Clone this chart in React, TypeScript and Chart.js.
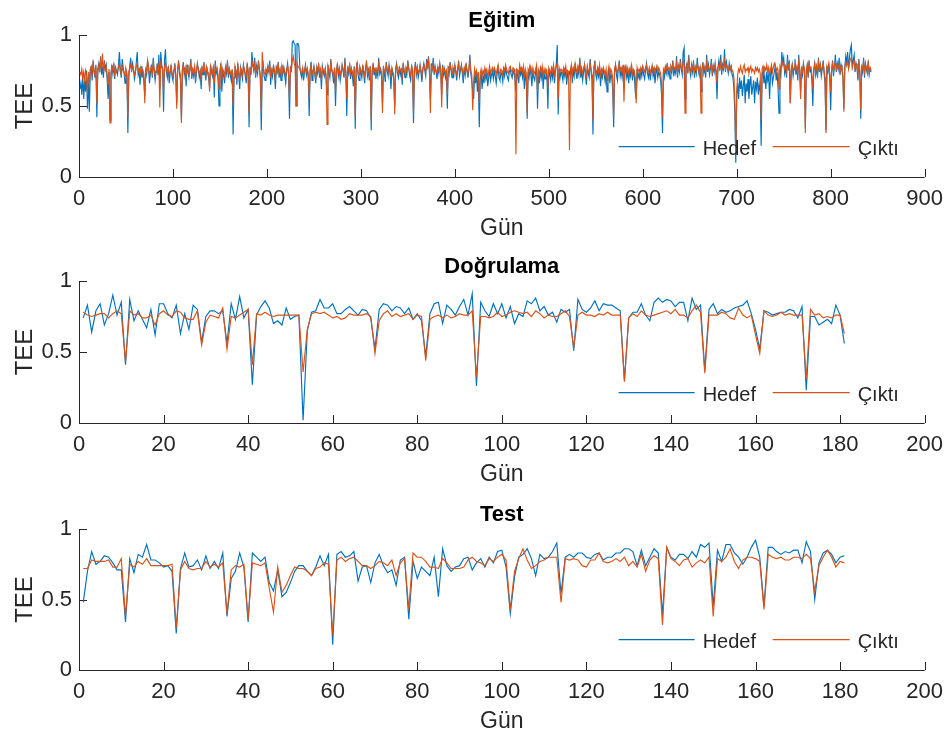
import React, { useEffect, useRef } from 'react';
import { Chart, registerables } from 'chart.js';

Chart.register(...registerables);

const FONT = "'Liberation Sans', Arial, Helvetica, sans-serif";
const AXIS = '#262626';
const BLUE = '#0072BD';
const ORANGE = '#D95319';

const SERIES_LABELS = ['Hedef', 'Çıktı'];
const Y_TICKS = [0, 0.5, 1];
const TRAIN_X_TICKS = [0, 100, 200, 300, 400, 500, 600, 700, 800, 900];
const SUB_X_TICKS = [0, 20, 40, 60, 80, 100, 120, 140, 160, 180, 200];

const trainTarget = [
  0.62,0.66,0.58,0.72,0.55,0.68,0.60,0.75,0.48,0.70,0.46,0.73,0.78,0.68,0.82,0.74,0.70,0.79,0.42,0.76,
  0.80,0.74,0.85,0.72,0.78,0.70,0.82,0.76,0.79,0.68,0.55,0.74,0.40,0.71,0.79,0.73,0.80,0.69,0.77,0.74,
  0.72,0.79,0.88,0.75,0.70,0.83,0.77,0.73,0.66,0.75,0.72,0.31,0.70,0.78,0.84,0.74,0.80,0.76,0.69,0.73,
  0.81,0.88,0.72,0.75,0.65,0.78,0.70,0.74,0.68,0.57,0.76,0.72,0.82,0.77,0.66,0.73,0.79,0.70,0.84,0.75,
  0.68,0.74,0.80,0.72,0.86,0.62,0.88,0.79,0.76,0.46,0.82,0.90,0.74,0.70,0.78,0.66,0.73,0.79,0.71,0.68,
  0.74,0.80,0.70,0.52,0.76,0.82,0.73,0.68,0.40,0.75,0.81,0.72,0.77,0.64,0.79,0.74,0.70,0.76,0.83,0.69,
  0.75,0.71,0.78,0.66,0.73,0.80,0.76,0.70,0.74,0.62,0.78,0.72,0.81,0.75,0.68,0.77,0.73,0.70,0.63,0.79,
  0.74,0.71,0.78,0.56,0.82,0.73,0.76,0.68,0.50,0.74,0.80,0.60,0.75,0.71,0.66,0.78,0.73,0.82,0.70,0.76,
  0.72,0.68,0.75,0.30,0.70,0.78,0.74,0.65,0.80,0.72,0.62,0.77,0.73,0.69,0.79,0.75,0.71,0.66,0.80,0.74,
  0.35,0.77,0.72,0.88,0.80,0.75,0.84,0.70,0.78,0.73,0.82,0.76,0.69,0.33,0.74,0.79,0.71,0.68,0.76,0.72,
  0.78,0.74,0.82,0.65,0.76,0.71,0.79,0.73,0.62,0.77,0.74,0.81,0.70,0.75,0.68,0.79,0.73,0.77,0.71,0.66,
  0.75,0.80,0.72,0.41,0.78,0.74,0.95,0.96,0.94,0.93,0.50,0.94,0.94,0.92,0.78,0.73,0.70,0.77,0.68,0.74,
  0.79,0.72,0.76,0.70,0.43,0.75,0.81,0.68,0.74,0.78,0.72,0.66,0.77,0.73,0.80,0.70,0.75,0.62,0.78,0.74,
  0.71,0.76,0.69,0.58,0.79,0.74,0.70,0.83,0.75,0.72,0.66,0.77,0.50,0.74,0.80,0.71,0.76,0.68,0.73,0.79,
  0.75,0.70,0.84,0.72,0.43,0.77,0.73,0.80,0.69,0.76,0.71,0.64,0.78,0.34,0.75,0.81,0.72,0.68,0.77,0.74,
  0.70,0.79,0.73,0.66,0.76,0.82,0.71,0.75,0.68,0.78,0.33,0.74,0.80,0.72,0.77,0.69,0.75,0.71,0.84,0.73,
  0.76,0.70,0.52,0.78,0.73,0.67,0.81,0.75,0.71,0.79,0.74,0.62,0.77,0.72,0.69,0.50,0.76,0.80,0.73,0.70,
  0.78,0.72,0.75,0.65,0.80,0.74,0.70,0.77,0.73,0.82,0.76,0.71,0.68,0.79,0.74,0.38,0.75,0.81,0.72,0.77,
  0.70,0.74,0.79,0.73,0.67,0.76,0.80,0.75,0.71,0.83,0.77,0.85,0.73,0.55,0.80,0.76,0.84,0.72,0.78,0.74,
  0.69,0.77,0.73,0.80,0.75,0.58,0.79,0.72,0.76,0.70,0.74,0.48,0.78,0.73,0.81,0.75,0.70,0.77,0.72,0.79,
  0.74,0.68,0.76,0.82,0.71,0.75,0.79,0.73,0.66,0.77,0.72,0.80,0.74,0.70,0.76,0.86,0.73,0.68,0.60,0.55,
  0.72,0.66,0.74,0.60,0.70,0.35,0.68,0.74,0.62,0.71,0.66,0.75,0.69,0.73,0.64,0.70,0.76,0.68,0.72,0.74,
  0.69,0.75,0.71,0.66,0.73,0.77,0.70,0.68,0.74,0.72,0.67,0.75,0.71,0.77,0.73,0.70,0.68,0.74,0.76,0.72,
  0.70,0.75,0.73,0.69,0.60,0.74,0.71,0.66,0.77,0.72,0.75,0.70,0.76,0.62,0.73,0.68,0.41,0.74,0.70,0.77,
  0.72,0.64,0.75,0.70,0.68,0.74,0.78,0.48,0.72,0.66,0.75,0.70,0.77,0.62,0.73,0.69,0.74,0.71,0.48,0.76,
  0.72,0.68,0.75,0.70,0.78,0.66,0.74,0.80,0.93,0.44,0.76,0.70,0.74,0.72,0.68,0.75,0.71,0.77,0.65,0.73,
  0.70,0.74,0.72,0.78,0.66,0.75,0.71,0.80,0.73,0.69,0.76,0.72,0.84,0.70,0.75,0.68,0.74,0.79,0.71,0.65,
  0.77,0.73,0.70,0.83,0.74,0.68,0.30,0.76,0.82,0.72,0.69,0.75,0.71,0.78,0.64,0.73,0.70,0.76,0.72,0.67,
  0.74,0.60,0.71,0.77,0.66,0.73,0.70,0.62,0.35,0.74,0.79,0.72,0.68,0.76,0.82,0.71,0.75,0.70,0.78,0.62,
  0.73,0.77,0.70,0.74,0.66,0.75,0.71,0.79,0.68,0.74,0.72,0.60,0.55,0.76,0.70,0.73,0.68,0.75,0.71,0.77,
  0.72,0.69,0.75,0.80,0.73,0.70,0.76,0.68,0.74,0.78,0.71,0.75,0.66,0.73,0.77,0.70,0.74,0.72,0.68,0.58,
  0.31,0.74,0.70,0.76,0.73,0.80,0.72,0.75,0.69,0.77,0.74,0.82,0.71,0.76,0.73,0.85,0.70,0.78,0.74,0.83,
  0.76,0.72,0.88,0.91,0.55,0.77,0.80,0.73,0.86,0.75,0.71,0.79,0.74,0.82,0.70,0.77,0.73,0.84,0.76,0.72,
  0.78,0.60,0.75,0.81,0.73,0.77,0.70,0.86,0.74,0.79,0.72,0.76,0.83,0.71,0.78,0.74,0.80,0.73,0.55,0.77,
  0.82,0.75,0.86,0.72,0.79,0.76,0.90,0.74,0.81,0.77,0.73,0.80,0.75,0.78,0.72,0.70,0.62,0.45,0.10,0.58,
  0.66,0.55,0.70,0.62,0.68,0.57,0.64,0.72,0.52,0.66,0.60,0.69,0.55,0.65,0.71,0.58,0.63,0.68,0.52,0.67,
  0.62,0.70,0.58,0.65,0.60,0.22,0.72,0.75,0.66,0.70,0.62,0.74,0.68,0.72,0.55,0.73,0.76,0.66,0.70,0.74,
  0.78,0.68,0.74,0.62,0.45,0.76,0.72,0.88,0.80,0.84,0.73,0.77,0.70,0.86,0.75,0.82,0.52,0.74,0.79,0.71,
  0.76,0.83,0.72,0.78,0.68,0.86,0.74,0.60,0.77,0.72,0.80,0.75,0.35,0.73,0.78,0.70,0.82,0.74,0.76,0.68,
  0.50,0.75,0.80,0.72,0.77,0.70,0.84,0.74,0.79,0.71,0.76,0.82,0.73,0.66,0.33,0.78,0.74,0.80,0.70,0.47,
  0.75,0.82,0.71,0.78,0.86,0.74,0.80,0.76,0.84,0.72,0.79,0.75,0.70,0.48,0.77,0.85,0.80,0.88,0.76,0.84,
  0.90,0.93,0.78,0.82,0.86,0.74,0.80,0.77,0.68,0.83,0.72,0.41,0.78,0.74,0.84,0.70,0.80,0.76,0.73,0.82,
  0.72,0.76,0.74,
];

const trainOutput = [
  0.74,0.72,0.76,0.70,0.74,0.68,0.75,0.72,0.58,0.74,0.66,0.76,0.78,0.73,0.80,0.75,0.72,0.77,0.52,0.74,
  0.78,0.75,0.82,0.76,0.87,0.74,0.80,0.75,0.77,0.72,0.65,0.76,0.38,0.73,0.78,0.75,0.79,0.72,0.76,0.74,
  0.75,0.77,0.80,0.74,0.72,0.78,0.75,0.74,0.71,0.76,0.73,0.42,0.74,0.77,0.79,0.75,0.78,0.76,0.72,0.74,
  0.78,0.80,0.74,0.76,0.72,0.77,0.74,0.75,0.73,0.52,0.76,0.74,0.82,0.77,0.72,0.75,0.78,0.73,0.80,0.76,
  0.72,0.75,0.78,0.74,0.80,0.49,0.82,0.77,0.76,0.60,0.78,0.80,0.75,0.73,0.77,0.72,0.74,0.78,0.73,0.71,
  0.75,0.78,0.73,0.48,0.76,0.80,0.75,0.72,0.38,0.76,0.79,0.74,0.77,0.70,0.78,0.75,0.73,0.76,0.80,0.72,
  0.76,0.73,0.78,0.70,0.75,0.79,0.76,0.73,0.75,0.68,0.77,0.74,0.80,0.76,0.72,0.77,0.74,0.73,0.60,0.78,
  0.75,0.73,0.77,0.66,0.80,0.75,0.76,0.72,0.62,0.75,0.79,0.68,0.76,0.74,0.71,0.78,0.75,0.80,0.73,0.76,
  0.74,0.72,0.76,0.50,0.73,0.78,0.75,0.70,0.79,0.74,0.68,0.77,0.75,0.72,0.78,0.76,0.73,0.71,0.79,0.75,
  0.45,0.76,0.74,0.82,0.78,0.76,0.80,0.73,0.77,0.75,0.80,0.76,0.72,0.45,0.88,0.78,0.74,0.72,0.76,0.74,
  0.77,0.75,0.80,0.70,0.76,0.74,0.78,0.75,0.68,0.77,0.75,0.79,0.73,0.76,0.72,0.78,0.75,0.77,0.74,0.71,
  0.76,0.78,0.74,0.55,0.77,0.75,0.82,0.85,0.80,0.78,0.50,0.80,0.78,0.77,0.76,0.74,0.73,0.77,0.72,0.75,
  0.78,0.74,0.76,0.73,0.55,0.75,0.79,0.72,0.75,0.77,0.74,0.70,0.77,0.75,0.79,0.73,0.76,0.68,0.77,0.75,
  0.73,0.76,0.72,0.37,0.78,0.75,0.73,0.80,0.76,0.74,0.71,0.77,0.60,0.75,0.79,0.73,0.76,0.72,0.75,0.78,
  0.76,0.73,0.80,0.74,0.55,0.77,0.75,0.79,0.73,0.76,0.74,0.70,0.77,0.43,0.76,0.80,0.74,0.72,0.77,0.75,
  0.73,0.78,0.75,0.71,0.76,0.80,0.74,0.76,0.72,0.78,0.40,0.75,0.79,0.74,0.77,0.73,0.76,0.74,0.80,0.75,
  0.76,0.73,0.45,0.77,0.75,0.72,0.79,0.76,0.74,0.78,0.75,0.70,0.77,0.74,0.72,0.44,0.76,0.79,0.75,0.73,
  0.77,0.75,0.76,0.71,0.79,0.75,0.73,0.77,0.75,0.80,0.76,0.74,0.72,0.78,0.75,0.45,0.76,0.79,0.74,0.77,
  0.73,0.75,0.78,0.75,0.72,0.76,0.79,0.76,0.74,0.80,0.77,0.82,0.75,0.45,0.78,0.76,0.80,0.74,0.77,0.75,
  0.73,0.77,0.75,0.79,0.76,0.49,0.78,0.74,0.76,0.73,0.75,0.58,0.77,0.75,0.79,0.76,0.73,0.77,0.74,0.78,
  0.75,0.72,0.76,0.80,0.74,0.76,0.78,0.75,0.71,0.77,0.74,0.79,0.75,0.73,0.76,0.82,0.75,0.72,0.47,0.66,
  0.76,0.72,0.75,0.70,0.74,0.52,0.73,0.76,0.71,0.75,0.72,0.77,0.74,0.76,0.71,0.74,0.78,0.73,0.75,0.77,
  0.74,0.77,0.75,0.72,0.76,0.79,0.74,0.73,0.76,0.75,0.72,0.77,0.75,0.79,0.76,0.74,0.73,0.77,0.78,0.75,
  0.74,0.77,0.76,0.73,0.16,0.76,0.75,0.72,0.79,0.75,0.77,0.74,0.78,0.70,0.76,0.73,0.45,0.76,0.74,0.78,
  0.75,0.72,0.77,0.74,0.73,0.76,0.79,0.60,0.75,0.72,0.77,0.74,0.78,0.70,0.76,0.73,0.76,0.75,0.62,0.77,
  0.75,0.73,0.77,0.74,0.79,0.72,0.76,0.78,0.80,0.55,0.77,0.74,0.76,0.75,0.73,0.77,0.74,0.78,0.72,0.75,
  0.74,0.19,0.75,0.79,0.72,0.77,0.75,0.80,0.76,0.73,0.78,0.75,0.82,0.74,0.77,0.73,0.76,0.79,0.75,0.71,
  0.78,0.75,0.73,0.80,0.76,0.72,0.40,0.77,0.80,0.75,0.73,0.77,0.74,0.79,0.70,0.76,0.74,0.77,0.75,0.72,
  0.76,0.68,0.74,0.78,0.72,0.76,0.74,0.70,0.42,0.76,0.79,0.75,0.73,0.77,0.80,0.75,0.77,0.74,0.79,0.53,
  0.76,0.78,0.74,0.77,0.73,0.76,0.75,0.79,0.73,0.76,0.75,0.70,0.52,0.77,0.74,0.76,0.73,0.77,0.75,0.78,
  0.76,0.74,0.77,0.79,0.75,0.74,0.77,0.73,0.76,0.78,0.75,0.77,0.72,0.76,0.78,0.74,0.77,0.75,0.73,0.66,
  0.42,0.76,0.74,0.78,0.75,0.79,0.76,0.77,0.74,0.78,0.76,0.80,0.75,0.77,0.76,0.81,0.74,0.78,0.76,0.80,
  0.77,0.75,0.82,0.80,0.45,0.77,0.79,0.75,0.82,0.77,0.74,0.78,0.76,0.80,0.74,0.77,0.75,0.80,0.77,0.74,
  0.77,0.45,0.76,0.79,0.75,0.77,0.74,0.81,0.76,0.78,0.75,0.77,0.80,0.74,0.78,0.76,0.79,0.75,0.66,0.77,
  0.79,0.76,0.81,0.75,0.78,0.77,0.82,0.76,0.79,0.77,0.75,0.78,0.76,0.78,0.75,0.74,0.70,0.55,0.16,0.60,
  0.72,0.76,0.74,0.78,0.75,0.73,0.77,0.79,0.74,0.76,0.75,0.77,0.73,0.76,0.78,0.74,0.76,0.75,0.73,0.77,
  0.75,0.77,0.74,0.76,0.73,0.40,0.76,0.78,0.74,0.77,0.75,0.79,0.74,0.77,0.72,0.76,0.79,0.74,0.77,0.80,
  0.78,0.74,0.77,0.75,0.62,0.78,0.76,0.82,0.79,0.80,0.76,0.78,0.74,0.81,0.77,0.80,0.52,0.76,0.79,0.74,
  0.77,0.80,0.75,0.78,0.73,0.81,0.76,0.55,0.78,0.74,0.79,0.76,0.31,0.75,0.79,0.73,0.80,0.76,0.78,0.72,
  0.62,0.76,0.80,0.74,0.78,0.73,0.81,0.76,0.79,0.74,0.77,0.80,0.75,0.70,0.31,0.78,0.76,0.80,0.73,0.60,
  0.76,0.80,0.74,0.78,0.81,0.76,0.79,0.77,0.80,0.74,0.78,0.76,0.73,0.46,0.77,0.81,0.79,0.82,0.76,0.80,
  0.83,0.84,0.77,0.80,0.82,0.76,0.79,0.77,0.72,0.80,0.75,0.47,0.78,0.76,0.81,0.74,0.79,0.77,0.75,0.80,
  0.73,0.77,0.75,
];

const valTarget = [
  0.74,0.83,0.64,0.79,0.84,0.69,0.77,0.90,0.76,0.85,
  0.41,0.87,0.72,0.79,0.73,0.67,0.80,0.62,0.84,0.84,
  0.77,0.74,0.83,0.63,0.77,0.66,0.83,0.80,0.57,0.75,
  0.79,0.79,0.77,0.79,0.56,0.84,0.73,0.89,0.74,0.80,
  0.27,0.76,0.82,0.86,0.81,0.70,0.72,0.69,0.81,0.73,
  0.75,0.76,0.02,0.65,0.78,0.79,0.87,0.81,0.81,0.84,
  0.77,0.77,0.80,0.82,0.79,0.76,0.80,0.79,0.74,0.52,
  0.80,0.84,0.83,0.79,0.82,0.81,0.77,0.81,0.73,0.77,
  0.72,0.47,0.77,0.84,0.85,0.70,0.83,0.80,0.76,0.82,
  0.87,0.76,0.91,0.26,0.85,0.79,0.75,0.84,0.77,0.84,
  0.74,0.82,0.70,0.77,0.75,0.86,0.84,0.88,0.79,0.82,
  0.76,0.78,0.71,0.80,0.78,0.80,0.51,0.87,0.80,0.78,
  0.81,0.86,0.79,0.84,0.83,0.83,0.81,0.79,0.30,0.74,
  0.78,0.78,0.84,0.76,0.72,0.85,0.88,0.85,0.87,0.86,
  0.82,0.85,0.85,0.72,0.88,0.80,0.83,0.37,0.80,0.84,
  0.77,0.80,0.78,0.79,0.81,0.82,0.83,0.86,0.77,0.66,
  0.52,0.79,0.78,0.76,0.77,0.78,0.78,0.80,0.79,0.74,
  0.82,0.23,0.75,0.75,0.69,0.71,0.73,0.70,0.83,0.76,0.56,
];

const valOutput = [
  0.78,0.76,0.75,0.76,0.77,0.77,0.74,0.77,0.79,0.77,
  0.43,0.79,0.76,0.77,0.74,0.74,0.76,0.69,0.77,0.79,
  0.76,0.75,0.79,0.78,0.74,0.73,0.73,0.79,0.55,0.71,
  0.76,0.75,0.74,0.81,0.52,0.75,0.74,0.76,0.78,0.80,
  0.41,0.77,0.76,0.78,0.76,0.75,0.76,0.76,0.76,0.76,
  0.76,0.76,0.36,0.66,0.77,0.78,0.77,0.78,0.76,0.74,
  0.75,0.73,0.74,0.77,0.76,
  0.76,0.76,0.77,0.75,0.49,0.72,0.77,0.79,0.75,0.77,
  0.75,0.76,0.77,0.73,0.76,0.75,0.44,0.73,0.75,0.76,
  0.74,0.76,0.74,0.75,0.77,0.76,0.76,0.79,0.32,0.75,
  0.75,0.74,0.75,0.78,0.75,0.76,0.78,0.79,0.78,0.77,
  0.78,0.75,0.79,0.77,0.74,0.76,0.75,0.75,0.77,0.79,
  0.75,0.53,0.76,0.78,0.76,0.76,0.75,0.77,0.76,0.78,
  0.76,0.76,0.76,0.29,
  0.74,0.77,0.75,0.79,0.76,0.75,0.76,0.77,0.78,0.79,
  0.77,0.80,0.76,0.76,0.74,0.79,0.83,0.78,0.35,0.76,
  0.76,0.76,0.78,0.77,0.74,0.73,0.81,0.76,0.74,0.76,
  0.62,0.49,0.79,0.76,0.75,0.76,0.78,0.76,0.77,0.76,
  0.76,0.76,0.31,0.80,0.76,0.77,0.74,0.75,0.74,0.76,
  0.76,0.63,
];

const testTarget = [
  0.48,0.70,0.84,0.75,0.77,0.81,0.80,0.76,0.71,0.71,
  0.34,0.79,0.69,0.82,0.80,0.89,0.78,0.78,0.76,0.73,
  0.74,0.70,0.26,0.72,0.83,0.73,0.74,0.78,0.71,0.81,
  0.72,0.77,0.72,0.83,0.38,0.65,0.70,0.83,0.73,0.34,
  0.83,0.80,0.77,0.80,0.62,0.56,0.71,0.52,0.55,0.62,
  0.70,0.74,0.74,0.70,0.67,0.73,0.81,0.74,0.82,0.18,
  0.82,0.84,0.80,0.81,0.84,0.63,0.73,0.74,0.62,0.76,
  0.82,0.74,0.69,0.71,0.60,0.78,0.80,0.36,0.77,0.65,
  0.73,0.70,0.67,0.80,0.52,0.86,0.74,0.70,0.73,0.74,
  0.79,0.80,0.71,0.76,0.79,0.73,0.80,0.76,0.84,0.85,
  0.73,0.40,0.66,0.80,0.82,0.86,0.79,0.67,0.82,0.79,
  0.80,0.84,0.90,0.54,0.80,0.82,0.80,0.83,0.83,0.80,
  0.79,0.82,0.83,0.78,0.80,0.80,0.83,0.83,0.86,0.86,
  0.84,0.74,0.85,0.74,0.80,0.86,0.83,0.39,0.87,0.80,
  0.78,0.82,0.82,0.79,0.84,0.80,0.89,0.87,0.90,0.45,
  0.85,0.77,0.89,0.89,0.83,0.80,0.75,0.80,0.87,0.92,
  0.80,0.45,0.87,0.87,0.84,0.82,0.84,0.83,0.85,0.85,
  0.76,0.91,0.84,0.50,0.76,0.83,0.85,0.82,0.76,0.80,0.81,
];

const testOutput = [
  0.72,0.72,0.78,0.77,0.77,0.77,0.78,0.73,0.73,0.79,
  0.38,0.75,0.73,0.77,0.75,0.79,0.74,0.74,0.74,0.74,
  0.74,0.75,0.30,0.71,0.77,0.72,0.71,0.72,0.72,0.77,
  0.73,0.75,0.73,0.76,0.40,0.71,0.74,0.73,0.75,0.36,
  0.76,0.75,0.74,0.76,0.58,0.41,0.73,0.55,0.60,0.67,
  0.73,0.72,0.72,0.70,0.67,0.72,0.73,0.76,0.75,0.25,
  0.78,0.80,0.77,0.79,0.80,0.77,0.74,0.74,0.72,0.74,
  0.77,0.76,0.74,0.78,0.67,0.76,0.79,0.43,0.83,0.80,
  0.80,0.77,0.73,0.73,0.72,0.79,0.76,0.72,0.72,0.72,
  0.73,0.78,0.80,0.77,0.76,0.74,0.79,0.77,0.80,0.82,
  0.78,0.43,0.70,0.79,0.86,0.78,0.72,0.74,0.77,0.78,
  0.80,0.80,0.80,0.48,0.79,0.78,0.79,0.78,0.74,0.73,
  0.78,0.78,0.83,0.77,0.76,0.77,0.79,0.77,0.80,0.74,
  0.77,0.73,0.82,0.70,0.78,0.81,0.79,0.32,0.87,0.79,
  0.77,0.74,0.78,0.79,0.73,0.76,0.78,0.76,0.80,0.38,
  0.79,0.77,0.80,0.86,0.77,0.72,0.78,0.80,0.80,0.79,
  0.77,0.43,0.82,0.80,0.79,0.80,0.78,0.78,0.80,0.80,
  0.79,0.82,0.79,0.56,0.74,0.80,0.85,0.80,0.73,0.77,0.76,
];

type PanelProps = {
  title: string;
  target: number[];
  output: number[];
  xTicks: number[];
  top: number;
  height: number;
  xAxisHeight: number;
};

function Panel({ title, target, output, xTicks, top, height, xAxisHeight }: PanelProps) {
  const ref = useRef<HTMLCanvasElement | null>(null);

  useEffect(() => {
    if (!ref.current) return;
    const toPts = (arr: number[]) => arr.map((v, i) => ({ x: i + 1, y: v }));

    const decor = {
      id: 'matlabDecor',
      beforeDatasetsDraw(chart: any) {
        const { ctx, chartArea: a, scales } = chart;
        ctx.save();
        ctx.strokeStyle = AXIS;
        ctx.lineWidth = 1;
        ctx.beginPath();
        ctx.moveTo(a.left + 0.5, a.top);
        ctx.lineTo(a.left + 0.5, a.bottom + 0.5);
        ctx.lineTo(a.right, a.bottom + 0.5);
        scales.x.ticks.forEach((t: any) => {
          const px = Math.round(scales.x.getPixelForValue(t.value)) + 0.5;
          ctx.moveTo(px, a.bottom);
          ctx.lineTo(px, a.bottom - 8);
        });
        scales.y.ticks.forEach((t: any) => {
          const py = Math.round(scales.y.getPixelForValue(t.value)) + 0.5;
          ctx.moveTo(a.left, py);
          ctx.lineTo(a.left + 8, py);
        });
        ctx.stroke();
        ctx.restore();
      },
      afterDraw(chart: any) {
        const { ctx, chartArea: a } = chart;
        const cx = (a.left + a.right) / 2;
        ctx.save();
        ctx.fillStyle = '#000000';
        ctx.font = `bold 22px ${FONT}`;
        ctx.textAlign = 'center';
        ctx.textBaseline = 'alphabetic';
        ctx.fillText(title, cx, a.top - 8);
        ctx.fillStyle = AXIS;
        ctx.font = `23px ${FONT}`;
        ctx.fillText('Gün', cx, a.bottom + 57.5);
        ctx.save();
        ctx.translate(32, (a.top + a.bottom) / 2);
        ctx.rotate(-Math.PI / 2);
        ctx.font = `24px ${FONT}`;
        ctx.fillText('TEE', 0, 0);
        ctx.restore();
        const ly = a.bottom - 30.3;
        const ds = chart.data.datasets;
        const items = [
          { x0: a.right - 306, x1: a.right - 230, tx: a.right - 222 },
          { x0: a.right - 152, x1: a.right - 75, tx: a.right - 67 },
        ];
        ctx.font = `20px ${FONT}`;
        ctx.textAlign = 'left';
        items.forEach((it, i) => {
          ctx.strokeStyle = ds[i].borderColor;
          ctx.lineWidth = 1.2;
          ctx.beginPath();
          ctx.moveTo(it.x0, ly);
          ctx.lineTo(it.x1, ly);
          ctx.stroke();
          ctx.fillStyle = AXIS;
          ctx.fillText(ds[i].label, it.tx, ly + 8.3);
        });
        ctx.restore();
      },
    };

    const chart = new Chart(ref.current, {
      type: 'line',
      data: {
        datasets: [
          {
            label: SERIES_LABELS[0],
            data: toPts(target),
            borderColor: BLUE,
            backgroundColor: BLUE,
            borderWidth: 1.15,
            pointRadius: 0,
            tension: 0,
            order: 1,
          },
          {
            label: SERIES_LABELS[1],
            data: toPts(output),
            borderColor: ORANGE,
            backgroundColor: ORANGE,
            borderWidth: 1.15,
            pointRadius: 0,
            tension: 0,
            order: 0,
          },
        ],
      },
      options: {
        animation: false,
        responsive: false,
        devicePixelRatio: 1,
        layout: { padding: { top: 35, right: 24, bottom: 0, left: 0 } },
        plugins: {
          legend: { display: false },
          tooltip: { enabled: false },
          title: { display: false },
        },
        scales: {
          x: {
            type: 'linear',
            min: xTicks[0],
            max: xTicks[xTicks.length - 1],
            grid: { display: false, drawTicks: false },
            border: { display: false },
            ticks: {
              font: { family: FONT, size: 22 },
              color: AXIS,
              padding: 9,
              maxRotation: 0,
              autoSkip: false,
              callback: (v: any) => String(v),
            },
            afterBuildTicks: (s: any) => {
              s.ticks = xTicks.map((v) => ({ value: v }));
            },
            afterFit: (s: any) => {
              s.height = xAxisHeight;
            },
          },
          y: {
            type: 'linear',
            min: Y_TICKS[0],
            max: Y_TICKS[Y_TICKS.length - 1],
            grid: { display: false, drawTicks: false },
            border: { display: false },
            ticks: {
              font: { family: FONT, size: 22 },
              color: AXIS,
              padding: 7,
              autoSkip: false,
              callback: (v: any) => String(v),
            },
            afterBuildTicks: (s: any) => {
              s.ticks = Y_TICKS.map((v) => ({ value: v }));
            },
            afterFit: (s: any) => {
              s.width = 79;
            },
          },
        },
      } as any,
      plugins: [decor],
    });
    return () => chart.destroy();
  }, [title, target, output, xTicks, xAxisHeight]);

  return (
    <canvas
      ref={ref}
      width={952}
      height={height}
      style={{ position: 'absolute', left: 0, top, width: 952, height, display: 'block' }}
    />
  );
}

export default function App() {
  return (
    <div
      style={{
        position: 'absolute',
        left: 0,
        top: 0,
        width: 952,
        height: 735,
        overflow: 'hidden',
        background: '#ffffff',
      }}
    >
      <Panel title="Eğitim" target={trainTarget} output={trainOutput} xTicks={TRAIN_X_TICKS} top={0} height={245} xAxisHeight={68} />
      <Panel title="Doğrulama" target={valTarget} output={valOutput} xTicks={SUB_X_TICKS} top={246} height={245} xAxisHeight={68} />
      <Panel title="Test" target={testTarget} output={testOutput} xTicks={SUB_X_TICKS} top={494} height={241} xAxisHeight={65} />
    </div>
  );
}
